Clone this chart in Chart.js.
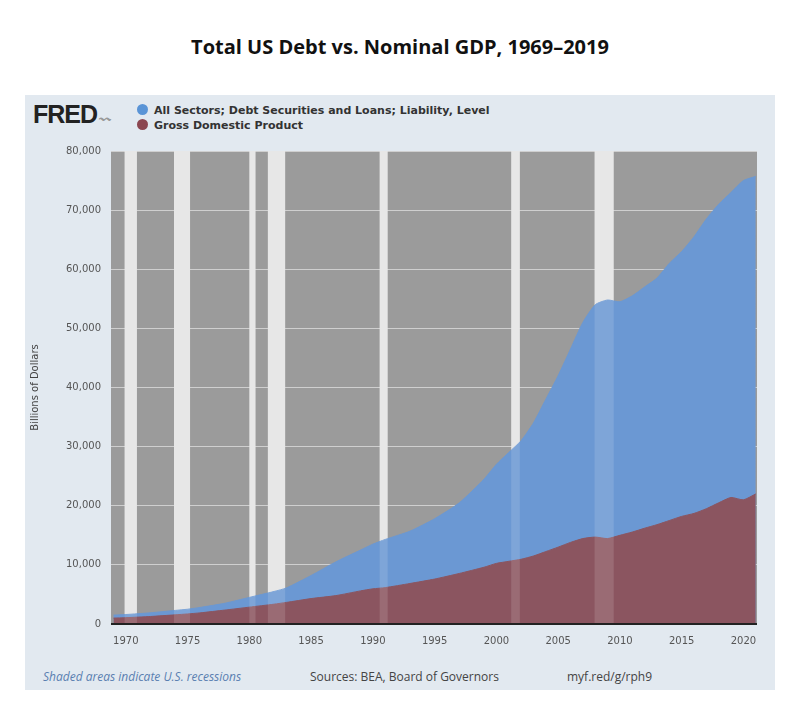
<!DOCTYPE html>
<html><head><meta charset="utf-8">
<script src="https://cdn.jsdelivr.net/npm/chart.js@4"></script>
<style>
body{margin:0;width:800px;height:702px;background:#fff;font-family:"Open Sans","Noto Sans",sans-serif;position:relative;overflow:hidden}
#title{position:absolute;top:33px;left:0;width:800px;text-align:center;font-weight:bold;font-size:20px;color:#111}
#panel{position:absolute;left:25px;top:95px;width:750px;height:595px;background:#e2e9f0}
#logo{position:absolute;left:8px;top:5px;font-family:"Liberation Sans",Arial,sans-serif;font-weight:900;font-size:25px;color:#222;letter-spacing:-1px}
.leg{position:absolute;left:112px;font-family:"DejaVu Sans",sans-serif;font-weight:bold;font-size:11px;color:#333}
.dot{display:inline-block;width:11px;height:11px;border-radius:50%;margin-right:6px;vertical-align:-1px}
#c{position:absolute;left:0;top:40px}
.foot{position:absolute;top:573px;font-size:12px;color:#444}
</style></head><body>
<div id="title">Total US Debt vs. Nominal GDP, 1969–2019</div>
<div id="panel">
<div id="logo">FRED<span style="font-size:12px;color:#999;font-weight:normal">&nbsp;〰</span></div>
<div class="leg" style="top:9px"><span class="dot" style="background:#5a94d6"></span>All Sectors; Debt Securities and Loans; Liability, Level</div>
<div class="leg" style="top:24px"><span class="dot" style="background:#8b4650"></span>Gross Domestic Product</div>
<canvas id="c" width="750" height="520"></canvas>
<div class="foot" style="left:18px;color:#5a7fb0;font-style:italic">Shaded areas indicate U.S. recessions</div>
<div class="foot" style="left:285px">Sources: BEA, Board of Governors</div>
<div class="foot" style="left:542px">myf.red/g/rph9</div>
</div>
<script>
const years=[1969,1970,1972,1974,1975,1976,1978,1980,1982,1983,1985,1987,1989,1990,1991,1993,1995,1997,1999,2000,2001,2002,2003,2004,2005,2006,2007,2008,2009,2010,2011,2012,2013,2014,2015,2016,2017,2018,2019,2020,2021];
const debt=[1500,1600,1900,2300,2500,2800,3500,4500,5500,6100,8200,10500,12500,13500,14300,15700,17800,20500,24500,27000,29000,31000,34000,38000,42000,46500,51000,54000,54800,54500,55500,57000,58500,61000,63000,65500,68500,71000,73000,75000,75700];
const gdpYears=[1969,1970,1972,1974,1975,1976,1978,1980,1982,1983,1985,1987,1989,1990,1991,1993,1995,1997,1999,2000,2001,2002,2003,2004,2005,2006,2007,2008,2009,2010,2011,2012,2013,2014,2015,2016,2017,2018,2019,2020,2021];
const gdp=[1000,1070,1270,1550,1700,1880,2350,2850,3350,3650,4300,4800,5600,5950,6150,6850,7600,8550,9600,10250,10600,10950,11500,12250,13000,13800,14450,14700,14450,15000,15550,16200,16800,17500,18200,18700,19500,20500,21400,21000,22000];
const recessions=[[1969.9,1970.9],[1973.9,1975.2],[1980.0,1980.5],[1981.5,1982.9],[1990.55,1991.2],[2001.2,2001.9],[2007.95,2009.5]];
const xTicks=[1970,1975,1980,1985,1990,1995,2000,2005,2010,2015,2020];
const bands={id:'bands',
 beforeDatasetsDraw(ch){const {ctx,chartArea:a,scales:{x}}=ch;ctx.save();
  ctx.fillStyle='#e4e4e4';recessions.forEach(r=>{ctx.fillRect(x.getPixelForValue(r[0]),a.top,x.getPixelForValue(r[1])-x.getPixelForValue(r[0]),a.bottom-a.top);});ctx.restore();},
 afterDatasetsDraw(ch){const {ctx,chartArea:a,scales:{x}}=ch;ctx.save();
  ctx.fillStyle='rgba(255,255,255,0.13)';recessions.forEach(r=>{ctx.fillRect(x.getPixelForValue(r[0]),a.top,x.getPixelForValue(r[1])-x.getPixelForValue(r[0]),a.bottom-a.top);});
  ctx.strokeStyle='#222';ctx.lineWidth=2;ctx.beginPath();ctx.moveTo(a.left,a.bottom);ctx.lineTo(a.right,a.bottom);ctx.stroke();ctx.restore();},
 beforeDraw(ch){const {ctx,chartArea:a}=ch;ctx.save();ctx.fillStyle='#9b9b9b';ctx.fillRect(a.left,a.top,a.right-a.left,a.bottom-a.top);ctx.restore();}
};
new Chart(document.getElementById('c'),{type:'line',
 data:{datasets:[
  {label:'GDP',data:gdpYears.map((y,i)=>({x:y,y:gdp[i]})),backgroundColor:'#8b5560',borderColor:'#8b5560',borderWidth:1,fill:'origin',pointRadius:0,tension:0.2},
  {label:'Debt',data:years.map((y,i)=>({x:y,y:debt[i]})),backgroundColor:'#6b98d3',borderColor:'#6b98d3',borderWidth:1,fill:'origin',pointRadius:0,tension:0.2}
 ]},
 options:{responsive:false,animation:false,
  layout:{padding:{left:0,right:18,top:13,bottom:4}},
  plugins:{legend:{display:false},tooltip:{enabled:false}},
  scales:{
   x:{type:'linear',min:1968.8,max:2021.1,grid:{display:false},border:{display:false},
      afterBuildTicks(s){s.ticks=xTicks.map(v=>({value:v}));},
      afterFit(s){s.height=27;},
      ticks:{callback:v=>String(v),color:'#555',font:{family:'DejaVu Sans',size:10},maxRotation:0,autoSkip:false}},
   y:{min:0,max:80000,grid:{color:'#cfcfcf',drawTicks:false},border:{display:false},
      afterFit(s){s.width=86;},
      ticks:{stepSize:10000,padding:10,color:'#555',font:{family:'DejaVu Sans',size:10},callback:v=>v.toLocaleString('en-US')},
      title:{display:true,text:'Billions of Dollars',color:'#444',font:{family:'DejaVu Sans',size:10},padding:{bottom:12}}}
  }},
 plugins:[bands]});
</script>
</body></html>
